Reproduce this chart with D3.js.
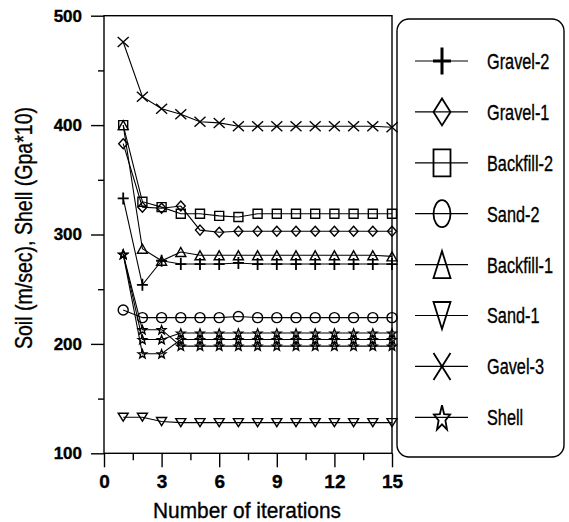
<!DOCTYPE html>
<html>
<head>
<meta charset="utf-8">
<script src="https://cdn.jsdelivr.net/npm/d3@7"></script>
<style>
  body { margin: 0; background: #fff; }
  svg { font-family: "Liberation Sans", Arial, sans-serif; }
  text { fill: #000; stroke: #000; stroke-width: 0.35px; }
</style>
</head>
<body>
<svg id="chart" width="569" height="522"></svg>
<script>
// values
var iterations = [1, 2, 3, 4, 5, 6, 7, 8, 9, 10, 11, 12, 13, 14, 15];
var gravel2   = [333, 254, 276, 273, 273, 273, 274, 273, 273, 273, 273, 273, 273, 273, 273];
var gravel1   = [383, 325, 324, 326, 304, 302, 303, 303, 303, 303, 303, 303, 303, 303, 303];
var backfill2 = [400, 330, 325, 319, 319, 317, 316, 319, 319, 319, 319, 319, 319, 319, 319];
var sand2     = [231, 224, 224, 224, 224, 224, 225, 224, 224, 224, 224, 224, 224, 224, 224];
var backfill1 = [400, 287, 276, 284, 281, 281, 281, 281, 281, 281, 281, 281, 281, 281, 280];
var sand1     = [133, 133, 129, 128, 128, 128, 128, 128, 128, 128, 128, 128, 128, 128, 128];
var gavel3    = [476, 426, 415, 410, 403, 402, 399, 399, 399, 399, 399, 399, 399, 399, 398];
var shellA    = [282, 213, 213, 198, 198, 198, 198, 198, 198, 198, 198, 198, 198, 198, 198];
var shellB    = [282, 204, 204, 210, 210, 210, 210, 210, 210, 210, 210, 210, 210, 210, 210];
var shellC    = [282, 191, 191, 204, 204, 204, 204, 204, 204, 204, 204, 204, 204, 204, 204];

var xMajorTicks = [0, 3, 6, 9, 12, 15];
var xMinorTicks = [1.5, 4.5, 7.5, 10.5, 13.5];
var yMajorTicks = [100, 200, 300, 400, 500];
var yMinorTicks = [150, 250, 350, 450];

var legendNames = ["Gravel-2", "Gravel-1", "Backfill-2", "Sand-2", "Backfill-1", "Sand-1", "Gavel-3", "Shell"];
var legendShapes = ["plus", "diamond", "square", "circle", "triUp", "triDown", "cross", "star"];

var series = [
  {shape: "plus", values: gravel2},
  {shape: "diamond", values: gravel1},
  {shape: "square", values: backfill2},
  {shape: "circle", values: sand2},
  {shape: "triUp", values: backfill1},
  {shape: "triDown", values: sand1},
  {shape: "cross", values: gavel3},
  {shape: "star", values: shellA},
  {shape: "star", values: shellB},
  {shape: "star", values: shellC}
];

var svg = d3.select("#chart");

var x = d3.scaleLinear().domain([0, 15]).range([104, 392]),
    y = d3.scaleLinear().domain([100, 500]).range([453.3, 15.7]);

// marker path, centred on 0,0
function markerPath(shape, w, h){
  var a = w / 2, b = h / 2;
  switch(shape){
    case "plus": return "M" + (-a) + ",0H" + a + "M0," + (-b) + "V" + b;
    case "cross": return "M" + (-a) + "," + (-b) + "L" + a + "," + b + "M" + a + "," + (-b) + "L" + (-a) + "," + b;
    case "diamond": return "M0," + (-b) + "L" + a + ",0L0," + b + "L" + (-a) + ",0Z";
    case "square": return "M" + (-a) + "," + (-b) + "H" + a + "V" + b + "H" + (-a) + "Z";
    case "triUp": return "M0," + (-b) + "L" + a + "," + b + "L" + (-a) + "," + b + "Z";
    case "triDown": return "M0," + b + "L" + a + "," + (-b) + "L" + (-a) + "," + (-b) + "Z";
    case "circle":
      return "M" + (-a) + ",0A" + a + "," + b + " 0 1,0 " + a + ",0A" + a + "," + b + " 0 1,0 " + (-a) + ",0Z";
    case "star":
      var p = [];
      for(var i = 0; i < 10; i++){
        var ang = -Math.PI / 2 + i * Math.PI / 5,
            r = i % 2 ? 0.42 : 1;
        p.push((Math.cos(ang) * a * r).toFixed(2) + "," + (Math.sin(ang) * b * r + b * 0.1).toFixed(2));
      }
      return "M" + p.join("L") + "Z";
  }
}

var plotSize = {plus: [11, 12], cross: [11, 10], diamond: [9, 10], square: [9, 9], circle: [10, 10],
                triUp: [10, 9], triDown: [10, 8], star: [9, 9]};

//Frame
svg.append("rect")
  .attr("x", x(0)).attr("y", y(500))
  .attr("width", x(15) - x(0)).attr("height", y(100) - y(500))
  .style("fill", "none").style("stroke", "#000").style("stroke-width", 1.4);

//Y axis
var yAxis = svg.append("g")
  .attr("transform", "translate(" + x(0) + ",0)")
  .call(d3.axisLeft(y).tickValues(yMajorTicks).tickSize(13).tickPadding(9).tickFormat(d3.format("d")));
svg.append("g")
  .attr("transform", "translate(" + x(0) + ",0)")
  .call(d3.axisLeft(y).tickValues(yMinorTicks).tickSize(6).tickFormat(""));

//X axis
var xAxis = svg.append("g")
  .attr("transform", "translate(0," + y(100) + ")")
  .call(d3.axisBottom(x).tickValues(xMajorTicks).tickSize(14).tickPadding(7).tickFormat(d3.format("d")));
svg.append("g")
  .attr("transform", "translate(0," + y(100) + ")")
  .call(d3.axisBottom(x).tickValues(xMinorTicks).tickSize(7).tickFormat(""));

svg.selectAll(".domain").remove();
svg.selectAll(".tick line").style("stroke", "#000").style("stroke-width", 1.4);
yAxis.selectAll("text").style("font-size", "17px")
  .style("font-family", "'Liberation Sans', Arial, sans-serif").style("font-weight", "bold");
xAxis.selectAll("text").style("font-size", "19px")
  .style("font-family", "'Liberation Sans', Arial, sans-serif").style("font-weight", "bold");

//Axis titles
svg.append("text")
  .attr("transform", "translate(32,228) rotate(-90) scale(0.85,1)")
  .style("text-anchor", "middle")
  .style("font-size", "23px")
  .text("Soil (m/sec), Shell (Gpa*10)");

svg.append("text")
  .attr("transform", "translate(247,518) scale(0.95,1)")
  .style("text-anchor", "middle")
  .style("font-size", "22px")
  .text("Number of iterations");

//Lines
var line = d3.line()
  .x(function(d, i){ return x(iterations[i]); })
  .y(function(d){ return y(d); });

svg.append("g").selectAll("path")
  .data(series).enter().append("path")
    .attr("d", function(s){ return line(s.values); })
    .style("fill", "none")
    .style("stroke", "#000")
    .style("stroke-width", 1.1);

//Markers
series.forEach(function(s){
  var sz = plotSize[s.shape];
  svg.append("g").selectAll("path")
    .data(s.values).enter().append("path")
      .attr("transform", function(d, i){ return "translate(" + x(iterations[i]) + "," + y(d) + ")"; })
      .attr("d", markerPath(s.shape, sz[0], sz[1]))
      .style("fill", "none")
      .style("stroke", "#000")
      .style("stroke-width", s.shape == "plus" ? 1.8 : 1.4);
});

//Legend
var legend = svg.append("g");
legend.append("rect")
  .attr("x", 397).attr("y", 19)
  .attr("width", 167).attr("height", 438)
  .attr("rx", 12).attr("ry", 12)
  .style("fill", "none").style("stroke", "#000").style("stroke-width", 1.4);

var rows = legend.selectAll(".row")
  .data(legendNames).enter().append("g")
    .attr("class", "row")
    .attr("transform", function(d, i){ return "translate(0," + (61 + i * 50.9) + ")"; });

rows.append("line")
  .attr("x1", 415).attr("x2", 468)
  .style("stroke", "#000").style("stroke-width", 1.2);

rows.append("path")
  .attr("transform", "translate(442,0)")
  .attr("d", function(d, i){ return markerPath(legendShapes[i], i == 0 ? 18 : 17, 27); })
  .style("fill", "none")
  .style("stroke", "#000")
  .style("stroke-width", function(d, i){ return i == 0 ? 3 : 1.8; });

rows.append("text")
  .attr("transform", "translate(487,0) scale(0.74,1)")
  .attr("dy", "0.36em")
  .style("font-size", "22px")
  .text(function(d){ return d; });
</script>
</body>
</html>
